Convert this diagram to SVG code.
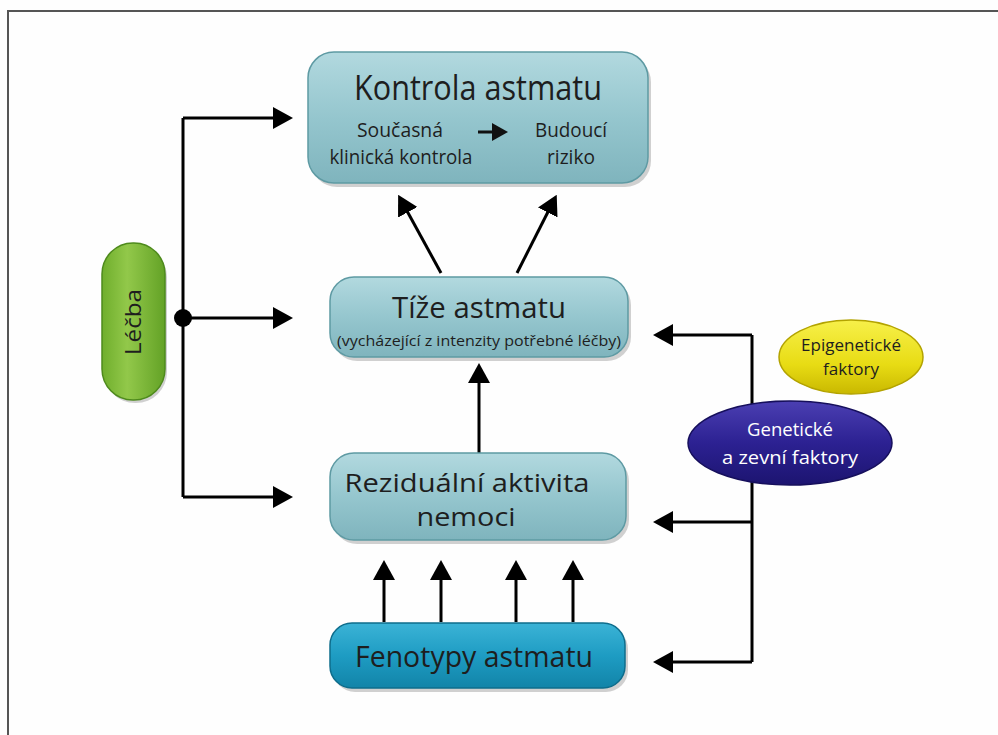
<svg xmlns="http://www.w3.org/2000/svg" width="998" height="735" viewBox="0 0 998 735">
<style>
  text { font-family: "Open Sans", "Liberation Sans", sans-serif; fill: #1e1e1e; text-anchor: middle; }
  .box { fill: url(#gBox); stroke: #5e9aa3; stroke-width: 1.5; }
  .shadow { fill: #000; opacity: 0.18; }
  .conn { stroke: #000; stroke-width: 3; fill: none; }
  .arr { marker-end: url(#ah); }
</style>
<defs>
  <linearGradient id="gBox" x1="0" y1="0" x2="0" y2="1">
    <stop offset="0" stop-color="#b2d9df"/>
    <stop offset="0.5" stop-color="#95c6ce"/>
    <stop offset="1" stop-color="#7fb4bd"/>
  </linearGradient>
  <linearGradient id="gFen" x1="0" y1="0" x2="0" y2="1">
    <stop offset="0" stop-color="#3bb3d6"/>
    <stop offset="0.5" stop-color="#1e9cc3"/>
    <stop offset="1" stop-color="#1284a8"/>
  </linearGradient>
  <linearGradient id="gGreen" x1="0" y1="0" x2="1" y2="0">
    <stop offset="0" stop-color="#6fae2c"/>
    <stop offset="0.4" stop-color="#92c84a"/>
    <stop offset="1" stop-color="#63a226"/>
  </linearGradient>
  <linearGradient id="gYellow" x1="0" y1="0" x2="0" y2="1">
    <stop offset="0" stop-color="#f7f04a"/>
    <stop offset="0.6" stop-color="#e8dc14"/>
    <stop offset="1" stop-color="#c9b800"/>
  </linearGradient>
  <linearGradient id="gBlue" x1="0" y1="0" x2="0" y2="1">
    <stop offset="0" stop-color="#4b3fb2"/>
    <stop offset="0.5" stop-color="#2c2192"/>
    <stop offset="1" stop-color="#1c1470"/>
  </linearGradient>
  <marker id="ah" viewBox="0 0 20 22" refX="14" refY="11" markerWidth="20" markerHeight="22" markerUnits="userSpaceOnUse" orient="auto">
    <path d="M0,0 L20,11 L0,22 z" fill="#000"/>
  </marker>
  <marker id="ahs" viewBox="0 0 16 18" refX="10" refY="9" markerWidth="16" markerHeight="18" markerUnits="userSpaceOnUse" orient="auto">
    <path d="M0,0 L16,9 L0,18 z" fill="#111"/>
  </marker>
</defs>

<rect x="0" y="0" width="998" height="735" fill="#fefefe"/>
<path d="M8,735 V11 H998" fill="none" stroke="#555" stroke-width="2"/>

<g id="connectors">
  <path class="conn" d="M183,118 V497"/>
  <path class="conn arr" d="M183,118 H287"/>
  <path class="conn arr" d="M183,318 H287"/>
  <path class="conn arr" d="M183,497 H287"/>
  <circle cx="183" cy="318" r="9" fill="#000"/>
  <path class="conn arr" d="M441,273 L401,200" stroke-width="2"/>
  <path class="conn arr" d="M517,273 L554,200" stroke-width="2"/>
  <path class="conn arr" d="M479,455 V369"/>
  <path class="conn arr" d="M384,622 V566"/>
  <path class="conn arr" d="M441,622 V566"/>
  <path class="conn arr" d="M516,622 V566"/>
  <path class="conn arr" d="M573,622 V566"/>
  <path class="conn" d="M752,335 V662"/>
  <path class="conn arr" d="M752,335 H659"/>
  <path class="conn arr" d="M752,522 H659"/>
  <path class="conn arr" d="M752,662 H659"/>
</g>

<g id="kontrola">
  <rect class="shadow" x="311" y="56" width="340" height="131" rx="26"/>
  <rect class="box" x="308" y="52" width="340" height="131" rx="26"/>
  <text x="478" y="100" font-size="34" textLength="248" lengthAdjust="spacingAndGlyphs">Kontrola astmatu</text>
  <text x="400" y="137" font-size="20" textLength="86" lengthAdjust="spacingAndGlyphs">Současná</text>
  <text x="401" y="164" font-size="20" textLength="143" lengthAdjust="spacingAndGlyphs">klinická kontrola</text>
  <text x="571" y="137" font-size="20" textLength="72" lengthAdjust="spacingAndGlyphs">Budoucí</text>
  <text x="571" y="164" font-size="20" textLength="48" lengthAdjust="spacingAndGlyphs">riziko</text>
  <path d="M478,132 H502" stroke="#111" stroke-width="3" marker-end="url(#ahs)"/>
</g>

<g id="tize">
  <rect class="shadow" x="333" y="281" width="298" height="80" rx="24"/>
  <rect class="box" x="330" y="277" width="298" height="80" rx="24"/>
  <text x="479" y="318" font-size="30" textLength="174" lengthAdjust="spacingAndGlyphs">Tíže astmatu</text>
  <text x="479" y="346" font-size="15" textLength="284" lengthAdjust="spacingAndGlyphs">(vycházející z intenzity potřebné léčby)</text>
</g>

<g id="rezidualni">
  <rect class="shadow" x="333" y="457" width="296" height="87" rx="24"/>
  <rect class="box" x="330" y="453" width="296" height="87" rx="24"/>
  <text x="467" y="492" font-size="25" textLength="245" lengthAdjust="spacingAndGlyphs">Reziduální aktivita</text>
  <text x="466" y="526" font-size="25" textLength="99" lengthAdjust="spacingAndGlyphs">nemoci</text>
</g>

<g id="fenotypy">
  <rect class="shadow" x="333" y="627" width="295" height="65" rx="22"/>
  <rect x="330" y="623" width="295" height="65" rx="22" fill="url(#gFen)" stroke="#0e6d8c" stroke-width="1.5"/>
  <text x="474" y="667" font-size="30" textLength="238" lengthAdjust="spacingAndGlyphs">Fenotypy astmatu</text>
</g>

<g id="lecba">
  <rect class="shadow" x="104" y="246" width="63" height="157" rx="31"/>
  <rect x="102" y="243" width="63" height="157" rx="31" fill="url(#gGreen)" stroke="#4e8a1c" stroke-width="1.5"/>
  <text transform="translate(141,322) rotate(-90)" font-size="22" textLength="66" lengthAdjust="spacingAndGlyphs">Léčba</text>
</g>

<g id="epigeneticke">
  <ellipse cx="851" cy="357" rx="72" ry="37" fill="url(#gYellow)" stroke="#b3a300" stroke-width="1.5"/>
  <text x="851" y="351" font-size="17" textLength="100" lengthAdjust="spacingAndGlyphs">Epigenetické</text>
  <text x="851" y="375" font-size="17" textLength="56" lengthAdjust="spacingAndGlyphs">faktory</text>
</g>

<g id="geneticke">
  <ellipse cx="790" cy="443" rx="102" ry="42" fill="url(#gBlue)" stroke="#160f5c" stroke-width="1.5"/>
  <text x="790" y="436" font-size="19" style="fill:#fff" textLength="86" lengthAdjust="spacingAndGlyphs">Genetické</text>
  <text x="790" y="464" font-size="19" style="fill:#fff" textLength="136" lengthAdjust="spacingAndGlyphs">a zevní faktory</text>
</g>
</svg>
